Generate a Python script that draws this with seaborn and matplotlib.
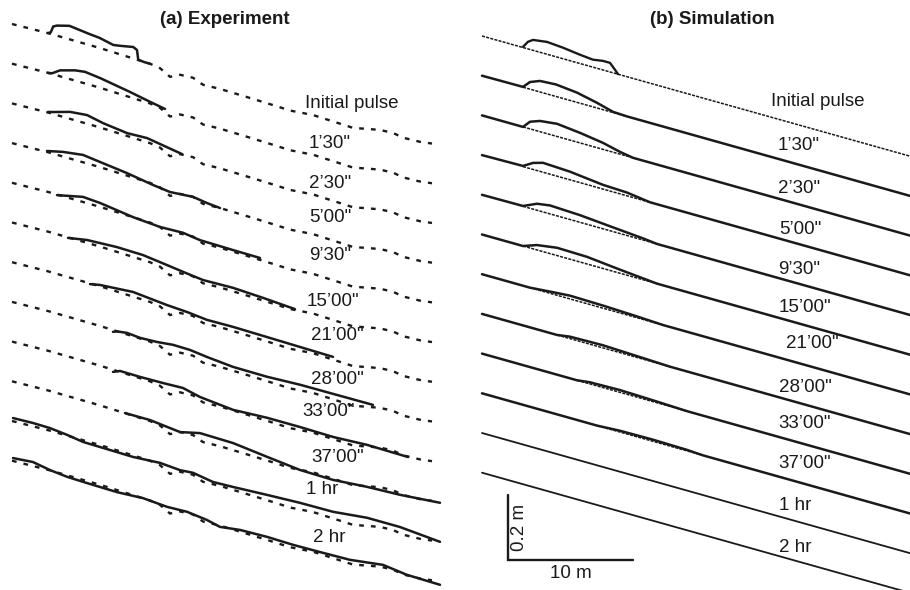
import numpy as np
import matplotlib
matplotlib.use("Agg")
import matplotlib.pyplot as plt
import seaborn as sns

# ---- data -------------------------------------------------------------
# profile labels (top to bottom)
times = ["Initial pulse", "1\u201930\"", "2\u201930\"", "5\u201900\"", "9\u201930\"", "15\u201900\"",
         "21\u201900\"", "28\u201900\"", "33\u201900\"", "37\u201900\"", "1 hr", "2 hr"]

slope = 0.0108          # bed slope (m/m)
sim_len = 35.0          # length of simulated reach shown (m)

# experiment: initial bed, elevation relative to the mean slope (mm)
bed_x = [0, 2.88, 7.04, 11.04, 11.84, 12.64, 13.44, 14.48, 15.28, 16.64, 19.04, 20.88,
         22.24, 24.08, 26.08, 27.28, 28.4, 29.44, 30.48, 31.28, 32.64, 33.6]
bed_mm = [0, 3, 2, -3, -8, -26, -11, -9, -22, -20, -22, -24,
          -26, -20, -23, -25, -16, -8, -6, -12, -10, -5]

# experiment: measured pulse surface for every time (x in m, elevation in mm)
exp_x = [
    [2.88, 3.1, 3.3, 3.6, 4.6, 5.4, 6.2, 7.0, 8.1, 8.6, 9.7, 10.0, 10.1, 10.6, 11.04],
    [2.88, 3.2, 3.84, 5.04, 5.84, 7.04, 9.44, 11.04, 12.24],
    [2.88, 3.2, 4.64, 6.0, 7.28, 9.2, 10.8, 13.6],
    [2.8, 4.08, 5.68, 7.04, 9.2, 11.28, 12.64, 14.48, 15.6, 16.64],
    [3.6, 5.68, 7.04, 9.68, 11.84, 13.68, 15.04, 17.68, 19.84],
    [4.48, 6.0, 8.4, 10.48, 12.4, 13.68, 15.28, 17.68, 20.08, 22.64],
    [6.24, 7.04, 9.68, 12.4, 14.0, 15.6, 17.68, 20.4, 23.04, 25.68],
    [8.08, 8.4, 9.2, 10.24, 11.6, 12.88, 14.24, 15.6, 17.68, 20.4, 23.04, 28.88],
    [8.08, 8.64, 10.24, 12.08, 13.68, 15.04, 17.68, 20.4, 23.04, 25.68, 28.4, 31.68],
    [9.04, 11.04, 13.44, 15.04, 17.68, 20.4, 23.04, 25.68, 28.4, 31.04, 34.24],
    [0.08, 1.68, 3.04, 4.4, 5.68, 7.04, 8.4, 9.68, 11.84, 13.44, 14.48, 16.08, 17.68,
     20.4, 23.04, 25.68, 28.4, 31.04, 34.24],
    [0.08, 1.68, 3.04, 4.4, 6.0, 8.4, 10.48, 12.4, 14.0, 15.6, 16.64, 18.24, 20.4,
     22.48, 24.64, 27.04, 29.68, 31.6, 34.24],
]
exp_mm = [
    [3, 8, 28, 34, 44, 40, 36, 33, 23, 26, 34, 28, -1, -3, -3],
    [3, 5, 21, 34, 38, 32, 15, 2, -7],
    [5, 8, 24, 29, 18, 8, 10, -9],
    [6, 17, 25, 18, 7, -7, -14, -9, -16, -20],
    [1, 18, 14, -1, -8, -6, -14, -16, -17],
    [1, 11, 15, 13, 3, -4, -12, -10, -15, -22],
    [0, 6, 13, 2, -2, -9, -8, -10, -12, -14],
    [-5, 0, 4, 0, 2, 7, 6, -1, -9, -10, -6, -5],
    [-6, 3, 2, 3, 5, -8, -19, -14, -14, -16, -11, -13],
    [0, 0, -11, 3, 1, -12, -24, -26, -18, -14, -4],
    [10, 12, 11, 5, -3, -4, -5, -6, -1, -6, -3, -14, -12, -7, -3, -2, 9, 9, -2],
    [9, 14, 4, -2, -4, -6, -2, -8, -6, -14, -24, -16, -14, -16, -15, -13, 0, -10, -12],
]

# simulation: pulse surface above the plane bed (x in m, elevation in mm)
sim_x = [
    [3.28, 3.68, 4.08, 5.2, 6.48, 7.84, 8.88, 9.68, 10.24, 10.64, 10.88],
    [3.28, 3.84, 4.64, 5.92, 7.6, 9.2, 10.48, 11.6],
    [3.28, 3.84, 4.64, 6.0, 7.84, 9.68, 11.04, 12.08],
    [3.28, 4.08, 4.88, 7.04, 9.68, 11.6, 13.44],
    [3.28, 4.4, 5.44, 7.84, 10.48, 12.88, 14.0],
    [3.28, 4.4, 6.0, 8.4, 11.04, 14.0],
    [3.84, 5.68, 7.04, 9.68, 12.4, 14.48],
    [6.0, 7.04, 9.68, 12.4, 15.04],
    [7.6, 8.64, 11.04, 13.68, 16.4],
    [9.2, 11.04, 13.68, 16.4, 17.68],
    [],
    [],
]
sim_mm = [
    [2, 22, 32, 38, 34, 27, 23, 28, 28, 11, 0],
    [1, 22, 34, 37, 30, 16, 2, 0],
    [0, 22, 33, 39, 31, 20, 7, 0],
    [2, 20, 29, 25, 13, 10, 0],
    [1, 20, 26, 22, 13, 5, 0],
    [0, 15, 24, 22, 11, 0],
    [0, 6, 10, 8, 4, 0],
    [0, 6, 8, 4, 0],
    [0, 5, 7, 4, 0],
    [0, 4, 5, 3, 0],
    [],
    [],
]

scale_x_m = 10     # horizontal scale bar (m)
scale_z_m = 0.2    # vertical scale bar (m)

# ---- layout -----------------------------------------------------------
W, H = 910, 590
px_m_x, px_m_z = 12.5, 325.0     # pixels per metre
row_gap = 39.7 / px_m_z          # vertical shift between profiles (m)

sns.set_theme(style="white")
plt.rcParams["font.family"] = ["Liberation Sans", "DejaVu Sans"]
plt.rcParams["text.color"] = "black"
fs = 13.5

fig = plt.figure(figsize=(W / 100, H / 100), dpi=100)


def make_ax(left_px, right_px, x0_px, y0_px):
    ax = fig.add_axes([left_px / W, 0, (right_px - left_px) / W, 1])
    ax.set_xlim((left_px - x0_px) / px_m_x, (right_px - x0_px) / px_m_x)
    ax.set_ylim((y0_px - H) / px_m_z, y0_px / px_m_z)
    ax.set_axis_off()
    return ax


ax_a = make_ax(0, 460, 12, 24)
ax_b = make_ax(470, 910, 482, 36)


def elev(x, mm, i):
    x = np.asarray(x, dtype=float)
    return -slope * x + np.asarray(mm, dtype=float) / 1000 - i * row_gap


def line(ax, x, y, lw, ls="-", color="k"):
    sns.lineplot(x=np.asarray(x, dtype=float), y=y, ax=ax, color=color, lw=lw,
                 linestyle=ls, sort=False, estimator=None, legend=False)


# (a) experiment
for i in range(len(times)):
    line(ax_a, bed_x, elev(bed_x, bed_mm, i), 1.7, (0, (2.0, 3.0)))
    line(ax_a, exp_x[i], elev(exp_x[i], exp_mm[i], i), 1.8)

# (b) simulation
bed_ls = (0, (2, 0.8))
for i in range(len(times)):
    px, pm = sim_x[i], sim_mm[i]
    if i == 0:
        line(ax_b, [0, sim_len], elev([0, sim_len], [0, 0], i), 1.1, bed_ls)
        line(ax_b, px, elev(px, pm, i), 1.7)
    elif px:
        line(ax_b, [px[0], px[-1]], elev([px[0], px[-1]], [0, 0], i), 1.1, bed_ls)
        xs = [0] + px + [sim_len]
        line(ax_b, xs, elev(xs, [0] + pm + [0], i), 1.8)
    else:
        line(ax_b, [0, sim_len], elev([0, sim_len], [0, 0], i), 1.3)

# scale bar
sx0 = (508 - 482) / px_m_x
sz0 = (36 - 560) / px_m_z
ax_b.plot([sx0, sx0, sx0 + scale_x_m], [sz0 + scale_z_m, sz0, sz0], color="k", lw=1.7,
          solid_joinstyle="miter")
ax_b.text(sx0 + scale_x_m / 2, sz0 - 13 / px_m_z, f"{scale_x_m} m", ha="center", va="center",
          fontsize=fs, color="k")
ax_b.text(sx0 + 12 / px_m_x, sz0 + scale_z_m / 2, f"{scale_z_m} m", ha="center", va="center",
          rotation=90, fontsize=fs, color="k")

# titles
fig.text(225 / W, 1 - 20 / H, "(a) Experiment", ha="center", va="center", fontsize=fs,
         fontweight="bold", color="k")
fig.text(712 / W, 1 - 20 / H, "(b) Simulation", ha="center", va="center", fontsize=fs,
         fontweight="bold", color="k")

# time labels (pixel centres)
lab_a = [(352, 103), (330, 143), (330, 183), (330, 217), (330, 256), (333, 302),
         (337, 335), (337, 379), (329, 412), (338, 457), (322, 490), (329, 538)]
lab_b = [(818, 102), (799, 146), (799, 189), (800, 229), (799, 269), (805, 308),
         (812, 343), (805, 388), (805, 423), (805, 463), (795, 505), (795, 547)]
for t, (xa, ya), (xb, yb) in zip(times, lab_a, lab_b):
    fig.text(xa / W, 1 - ya / H, t, ha="center", va="center", fontsize=fs, color="k")
    fig.text(xb / W, 1 - yb / H, t, ha="center", va="center", fontsize=fs, color="k")

fig.savefig("out.png", dpi=100, facecolor="white")
